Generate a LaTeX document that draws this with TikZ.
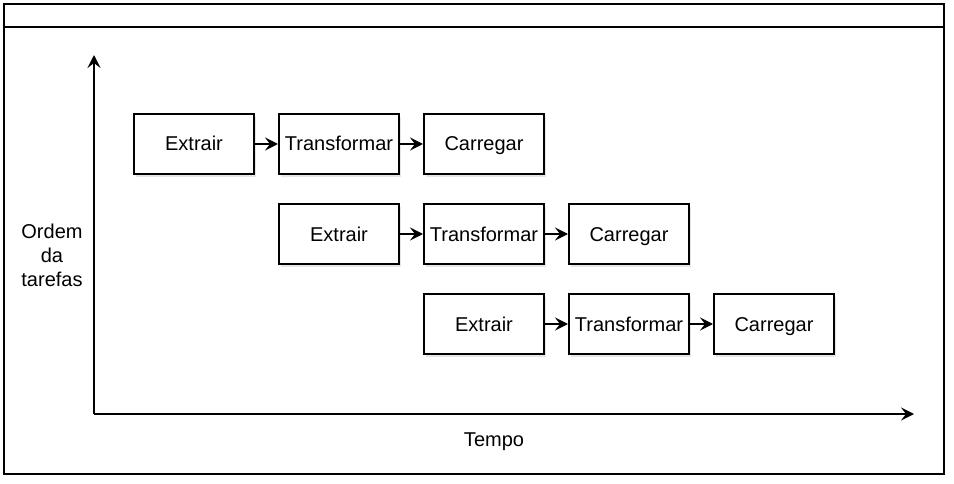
\documentclass[tikz,border=0pt]{standalone}
\usepackage{fontspec}
\setmainfont{Liberation Sans}
\usetikzlibrary{positioning,arrows.meta,shadows}

\tikzset{
  etapa/.style={draw, line width=2pt, fill=white, minimum width=120pt, minimum height=60pt,
    inner sep=0pt, text height=15pt, text depth=1pt, font=\fontsize{20}{22}\selectfont,
    drop shadow={shadow xshift=2pt, shadow yshift=-3pt, opacity=0.2}},
  seta/.style={line width=2pt, -{Stealth[length=13pt,width=13pt,inset=5pt]}},
  rotulo/.style={font=\fontsize{20}{24}\selectfont, align=center}
}

\begin{document}
\begin{tikzpicture}[x=1pt,y=-1pt]
\useasboundingbox (0,0) rectangle (954,484);
% moldura
\draw[line width=2pt] (4,4) rectangle (944,474);
\draw[line width=2pt] (4,27) -- (944,27);
% eixos
\coordinate (origem) at (94,414);
\coordinate (topo) at (94,55);
\coordinate (fim) at (914,414);
\draw[seta] (origem) -- (topo);
\draw[seta] (origem) -- (fim);
\node[rotulo] (ordem) at (52,255) {Ordem\\da\\tarefas};
\node[rotulo] (tempo) at (494,442) {Tempo};
% etapas
\foreach \r in {1,2,3} {
  \node[etapa] (e\r) at ({194+145*(\r-1)},{144+90*(\r-1)}) {Extrair};
  \node[etapa, right=23pt of e\r] (t\r) {Transformar};
  \node[etapa, right=23pt of t\r] (c\r) {Carregar};
  \draw[seta] (e\r) -- (t\r);
  \draw[seta] (t\r) -- (c\r);
}
\end{tikzpicture}
\end{document}
